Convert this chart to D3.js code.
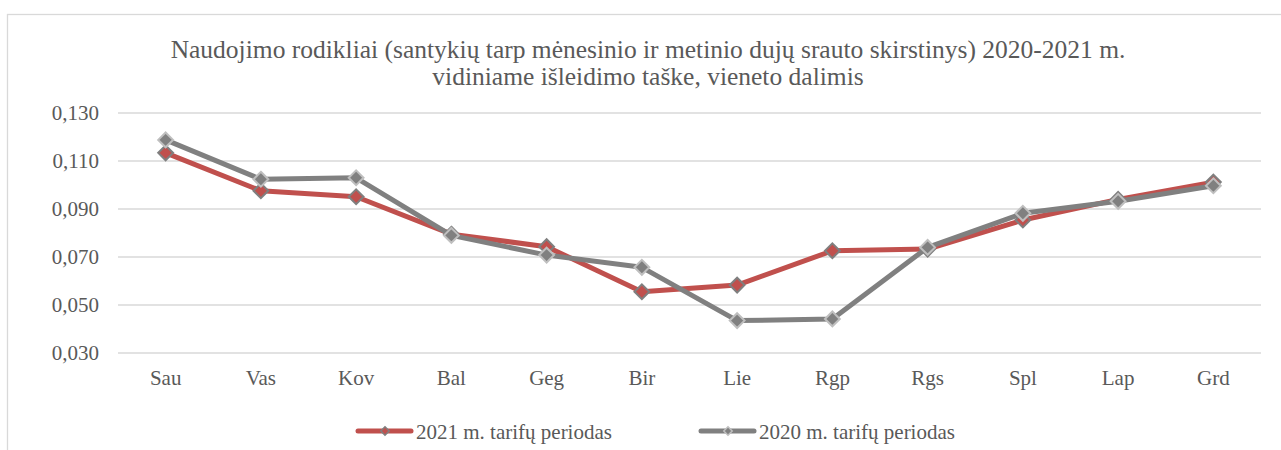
<!DOCTYPE html>
<html>
<head>
<meta charset="utf-8">
<script src="https://cdn.jsdelivr.net/npm/d3@7"></script>
<style>
  body { margin: 0; background: #fff; }
  text { font-family: "Liberation Serif", "Times New Roman", serif; fill: #595959; }
</style>
</head>
<body>
<div id="chart"></div>
<script>
var months = ["Sau", "Vas", "Kov", "Bal", "Geg", "Bir", "Lie", "Rgp", "Rgs", "Spl", "Lap", "Grd"];
var series2021 = [0.1134, 0.0976, 0.0951, 0.0795, 0.0743, 0.0555, 0.0583, 0.0726, 0.0733, 0.0854, 0.0940, 0.1012];
var series2020 = [0.1188, 0.1024, 0.1030, 0.0790, 0.0708, 0.0657, 0.0435, 0.0442, 0.0740, 0.0882, 0.0932, 0.0997];
var yTicks = [0.030, 0.050, 0.070, 0.090, 0.110, 0.130];
var titleLines = ["Naudojimo rodikliai (santykių tarp mėnesinio ir metinio dujų srauto skirstinys) 2020-2021 m.",
                  "vidiniame išleidimo taške, vieneto dalimis"];
var legendNames = ["2021 m. tarifų periodas", "2020 m. tarifų periodas"];

var W = 1281, H = 450;
var margin = {top: 113, right: 20, bottom: 97, left: 118},
    w = W - margin.left - margin.right,
    h = H - margin.top - margin.bottom;

var svg = d3.select("#chart").append("svg")
  .attr("width", W).attr("height", H);

// outer chart frame (cut off at right and bottom)
svg.append("rect")
  .attr("x", 7.5).attr("y", 14.5)
  .attr("width", W + 20).attr("height", H + 20)
  .attr("fill", "none").attr("stroke", "#d9d9d9").attr("stroke-width", 1.3);

var g = svg.append("g")
  .attr("transform", "translate(" + margin.left + "," + margin.top + ")");

var xScale = d3.scaleBand().domain(months).range([0, w]);
var yScale = d3.scaleLinear().domain([0.03, 0.13]).range([h, 0]);
var fmt = function(d) { return d3.format(".3f")(d).replace(".", ","); };

// gridlines
g.selectAll("line.grid").data(yTicks).enter().append("line")
  .attr("class", "grid")
  .attr("x1", 0).attr("x2", w)
  .attr("y1", function(d) { return yScale(d); })
  .attr("y2", function(d) { return yScale(d); })
  .attr("stroke", "#d9d9d9").attr("stroke-width", 1.3);

// y axis
var yAxis = g.append("g")
  .call(d3.axisLeft(yScale).tickValues(yTicks).tickFormat(fmt).tickSize(0).tickPadding(19));
yAxis.attr("font-family", null).attr("font-size", null);
yAxis.select(".domain").remove();
yAxis.selectAll("text").style("font-size", "21px").style("fill", "#595959");

// x axis
var xAxis = g.append("g")
  .attr("transform", "translate(0," + h + ")")
  .call(d3.axisBottom(xScale).tickSize(0).tickPadding(17));
xAxis.attr("font-family", null).attr("font-size", null);
xAxis.select(".domain").remove();
xAxis.selectAll("text").style("font-size", "21px").style("fill", "#595959");

var line = d3.line()
  .x(function(d, i) { return xScale(months[i]) + xScale.bandwidth() / 2; })
  .y(function(d) { return yScale(d); });

var diamond = d3.symbol().type(d3.symbolDiamond2).size(140);

function drawSeries(data, color, markerStroke) {
  g.append("path").datum(data)
    .attr("d", line)
    .attr("fill", "none")
    .attr("stroke", color)
    .attr("stroke-width", 5)
    .attr("stroke-linejoin", "round");
  g.selectAll(null).data(data).enter().append("path")
    .attr("d", diamond)
    .attr("transform", function(d, i) {
      return "translate(" + (xScale(months[i]) + xScale.bandwidth() / 2) + "," + yScale(d) + ")";
    })
    .attr("fill", color)
    .attr("stroke", markerStroke)
    .attr("stroke-width", 2);
}

drawSeries(series2021, "#c0504d", "#7f7f7f");
drawSeries(series2020, "#808080", "#bfbfbf");

// title
svg.selectAll("text.title").data(titleLines).enter().append("text")
  .attr("class", "title")
  .attr("x", 648)
  .attr("y", function(d, i) { return 58 + i * 27; })
  .attr("text-anchor", "middle")
  .style("font-size", "25.5px")
  .text(function(d) { return d; });

// legend
var legendX = [356, 699];
var legendColors = [["#c0504d", "#7f7f7f"], ["#808080", "#bfbfbf"]];
var lg = svg.selectAll("g.legend").data(legendNames).enter().append("g")
  .attr("class", "legend")
  .attr("transform", function(d, i) { return "translate(" + legendX[i] + ",431)"; });
lg.append("line")
  .attr("x1", 2).attr("x2", 55)
  .attr("stroke", function(d, i) { return legendColors[i][0]; })
  .attr("stroke-width", 5).attr("stroke-linecap", "round");
lg.append("path")
  .attr("d", d3.symbol().type(d3.symbolDiamond2).size(45))
  .attr("transform", "translate(29,0)")
  .attr("fill", function(d, i) { return legendColors[i][0]; })
  .attr("stroke", function(d, i) { return legendColors[i][1]; })
  .attr("stroke-width", 1.5);
lg.append("text")
  .attr("x", 60).attr("y", 8)
  .style("font-size", "21px")
  .text(function(d) { return d; });
</script>
</body>
</html>
